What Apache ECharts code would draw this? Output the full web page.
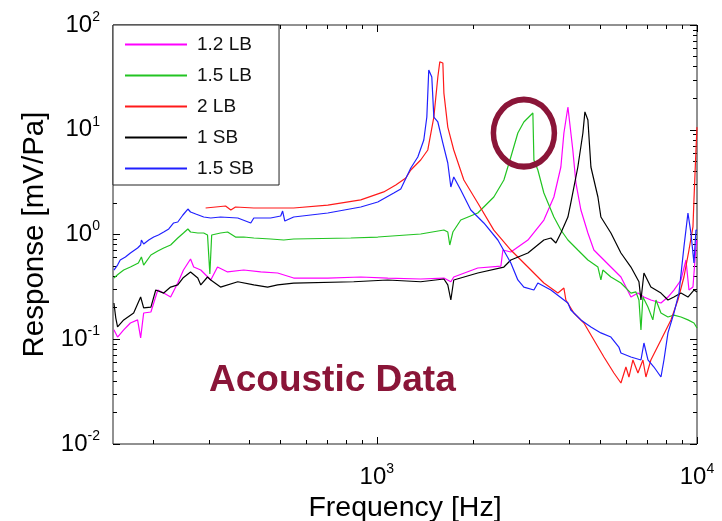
<!DOCTYPE html>
<html>
<head>
<meta charset="utf-8">
<script src="https://cdn.jsdelivr.net/npm/echarts@6/dist/echarts.min.js"></script>
<style>
  html, body { margin: 0; padding: 0; background: #fff; }
  #chart { width: 722px; height: 521px; }
</style>
</head>
<body>
<div id="chart"></div>
<script>
// Frequency response of the microphone variants, log-log.
// Frequencies in Hz, responses in mV/Pa.

const seriesNames = ['1.2 LB', '1.5 LB', '2 LB', '1 SB', '1.5 SB'];

const freq12LB = [151,155,162,170,179,183,187,197,207,216,227,239,249,262,268,282,303,318,342,384,
  434,490,550,703,891,1082,1371,1620,1703,1739,2067,2441,2476,2622,2964,3325,3573,3757,3840,3952,
  4094,4187,4339,4563,4764,5010,5384,5787,6218,6540,6828,7177,7717,8115,8472,8912,9237,9439,9713,9926,10000];
const resp12LB = [0.123,0.105,0.123,0.143,0.153,0.103,0.178,0.182,0.295,0.276,0.253,0.344,0.458,0.584,0.489,0.458,0.368,0.489,0.439,0.458,
  0.439,0.429,0.384,0.384,0.393,0.384,0.376,0.384,0.354,0.393,0.479,0.500,0.711,0.681,0.886,1.375,2.28,4.41,9.31,16.5,
  6.41,3.10,1.714,1.033,0.711,0.610,0.489,0.393,0.253,0.276,0.253,0.237,0.222,0.253,0.295,0.368,0.571,0.295,0.315,0.760,0.886];

const freq15LB = [151,156,162,170,180,184,187,197,207,216,227,239,249,257,262,276,288,296,301,305,
  325,342,362,384,413,466,512,550,829,1007,1371,1620,1666,1690,1728,1829,2067,2320,2494,2622,
  2757,2879,3072,3095,3184,3325,3573,3757,3952,4245,4563,4904,5010,5082,5384,5787,6218,6446,6587,6683,
  6778,7028,7279,7444,7717,8115,8472,8912,9370,9784,10000];
const resp15LB = [0.384,0.420,0.458,0.489,0.534,0.610,0.511,0.637,0.696,0.743,0.794,0.926,1.033,1.129,1.056,1.033,1.033,0.989,0.420,0.989,
  1.033,1.056,0.946,0.946,0.926,0.906,0.886,0.906,0.926,0.946,1.011,1.104,1.056,0.794,1.056,1.375,1.604,2.28,3.314,5.494,
  9.31,11.86,14.45,5.14,4.13,2.49,1.469,1.104,0.886,0.711,0.571,0.489,0.368,0.458,0.393,0.344,0.276,0.283,0.237,0.1225,
  0.253,0.203,0.153,0.237,0.178,0.163,0.170,0.163,0.153,0.143,0.128];

const freq2LB = [292,314,337,350,362,413,550,703,891,1051,1146,1232,1277,1371,1443,1507,1551,1573,1608,1620,
  1666,1739,1870,2067,2320,2622,2964,3325,3677,3840,3895,4125,4434,4764,5120,5502,5787,5998,6130,6308,
  6540,6778,6926,7177,7717,8291,8718,9103,9439,9713,9784,9926,10000];
const resp2LB = [1.79,1.83,1.87,1.71,1.83,1.79,1.79,1.91,2.14,2.55,2.97,3.46,4.13,5.14,6.41,13.2,31.9,44.4,43.4,22.4,
  10.6,6.41,3.31,2.00,1.10,0.711,0.489,0.344,0.276,0.308,0.237,0.178,0.143,0.0984,0.0677,0.0476,0.0382,0.0543,0.0436,0.0634,
  0.0476,0.0634,0.0436,0.0634,0.0984,0.153,0.237,0.393,0.711,1.18,2.14,6.41,10.6];

const freq1SB = [151,153,155,162,174,183,187,197,204,216,227,239,248,262,276,282,296,303,325,368,
  413,456,490,550,847,1082,1371,1620,1666,1703,1739,2067,2494,2622,2964,3325,3497,3625,3757,3952,
  4036,4245,4402,4466,4563,4663,4904,5010,5384,5787,6218,6587,6683,6828,7177,7717,8115,8472,8912,9370,9784,10000];
const resp1SB = [0.222,0.160,0.131,0.153,0.178,0.253,0.199,0.203,0.295,0.276,0.315,0.330,0.384,0.439,0.384,0.330,0.393,0.368,0.315,0.354,
  0.330,0.315,0.330,0.344,0.354,0.368,0.354,0.376,0.330,0.237,0.368,0.429,0.489,0.571,0.666,0.886,0.926,0.830,1.033,1.469,
  2.00,4.41,9.31,14.8,12.4,4.41,2.28,1.469,1.033,0.666,0.489,0.354,0.237,0.429,0.315,0.276,0.237,0.253,0.276,0.253,0.295,0.283];

const freq15SB = [151,155,158,164,170,179,183,184,187,194,201,208,216,224,232,239,248,257,262,272,
  288,303,325,368,404,413,466,501,508,516,550,703,891,1007,1130,1188,1277,1343,1402,1433,
  1453,1485,1507,1551,1608,1666,1703,1739,1829,1966,2159,2388,2622,2757,2879,3095,3184,3497,3952,4036,
  4339,4663,5010,5384,5701,5787,6218,6683,6828,7028,7337,7717,7884,8115,8472,8784,9103,9370,9572,9784,9926,10000];
const resp15SB = [0.458,0.511,0.571,0.610,0.666,0.743,0.794,0.886,0.811,0.886,0.946,0.990,1.056,1.129,1.288,1.316,1.535,1.751,1.640,1.569,
  1.469,1.437,1.469,1.437,1.288,1.437,1.437,1.502,1.676,1.345,1.469,1.604,1.830,2.043,2.490,2.719,4.314,5.494,7.983,13.23,
  37.2,31.9,13.2,11.86,7.47,4.815,2.841,3.539,2.660,1.714,1.288,0.886,0.534,0.368,0.315,0.295,0.344,0.295,0.222,0.190,
  0.153,0.131,0.115,0.105,0.0843,0.0739,0.0677,0.0634,0.0921,0.0634,0.0543,0.0436,0.0634,0.115,0.178,0.276,0.760,1.604,1.033,0.534,1.104,1.10];

// Axis ranges and decade tick labels (exponents of 10)
const freqRange = [150, 10000];
const respRange = [0.01, 100];
const xDecades = [3, 4];
const yDecades = [-2, -1, 0, 1, 2];
const xMinorTicks = [200,300,400,500,600,700,800,900,2000,3000,4000,5000,6000,7000,8000,9000];
const yMinorTicks = [];
[0.01, 0.1, 1, 10].forEach(function (d) {
  for (let m = 2; m <= 9; m++) yMinorTicks.push(m * d);
});

// Highlighted resonance of the 1.5 LB variant
const highlightAt = [2880, 9.3];
const noteText = 'Acoustic Data';

const colors = ['#ff00ff', '#22c422', '#ff1a1a', '#000000', '#2020ff'];
const FONT = '"Liberation Sans", Arial, Helvetica, sans-serif';
const lg = Math.log10;

function toPairs(f, r) { return f.map(function (x, i) { return [lg(x), lg(r[i])]; }); }
const table = [
  toPairs(freq12LB, resp12LB),
  toPairs(freq15LB, resp15LB),
  toPairs(freq2LB, resp2LB),
  toPairs(freq1SB, resp1SB),
  toPairs(freq15SB, resp15SB)
];

function powLabel(v) { return '{b|10}{s|' + Math.round(v) + '}'; }
const powRich = {
  b: { fontSize: 24, lineHeight: 30, fontFamily: FONT, color: '#000' },
  s: { fontSize: 14, lineHeight: 14, verticalAlign: 'top', fontFamily: FONT, color: '#000' }
};

const gridRect = { left: 113, top: 25, width: 584, height: 419 };
const xMin = lg(freqRange[0]), xMax = lg(freqRange[1]);
const yMin = lg(respRange[0]), yMax = lg(respRange[1]);
const tickColor = '#000';

function xAxisDef(grid, pos, values, len, withLabels) {
  const a = {
    type: 'value', gridIndex: grid, position: pos, min: xMin, max: xMax,
    axisLine: { show: false, onZero: false }, splitLine: { show: false },
    axisTick: { show: true, inside: true, length: len, customValues: values, lineStyle: { color: tickColor, width: 1 } },
    axisLabel: { show: false }
  };
  if (withLabels) {
    a.axisLabel = { show: true, customValues: xDecades, formatter: powLabel, rich: powRich, margin: 18,
      showMinLabel: true, showMaxLabel: true };
    a.name = 'Frequency [Hz]';
    a.nameLocation = 'middle';
    a.nameGap = 44;
    a.nameTextStyle = { fontSize: 28.5, fontFamily: FONT, color: '#000' };
  }
  return a;
}
function yAxisDef(grid, pos, values, len, withLabels) {
  const a = {
    type: 'value', gridIndex: grid, position: pos, min: yMin, max: yMax,
    axisLine: { show: false, onZero: false }, splitLine: { show: false },
    axisTick: { show: true, inside: true, length: len, customValues: values, lineStyle: { color: tickColor, width: 1 } },
    axisLabel: { show: false }
  };
  if (withLabels) {
    a.axisLabel = { show: true, customValues: yDecades, formatter: powLabel, rich: powRich, margin: 13,
      showMinLabel: true, showMaxLabel: true };
    a.name = 'Response [mV/Pa]';
    a.nameLocation = 'middle';
    a.nameRotate = 90;
    a.nameGap = 58;
    a.nameTextStyle = { fontSize: 29.5, fontFamily: FONT, color: '#000' };
  }
  return a;
}

const xMinorLog = xMinorTicks.map(lg);
const yMinorLog = yMinorTicks.map(lg);

const chart = echarts.init(document.getElementById('chart'), null, { renderer: 'canvas' });
chart.setOption({
  animation: false,
  backgroundColor: '#fff',
  textStyle: { fontFamily: FONT },
  grid: [
    Object.assign({ show: true, borderColor: '#222', borderWidth: 1, backgroundColor: 'transparent',
      containLabel: false, outerBoundsMode: 'none' }, gridRect),
    Object.assign({ show: false, containLabel: false, outerBoundsMode: 'none' }, gridRect)
  ],
  xAxis: [
    xAxisDef(0, 'bottom', xDecades, 7, true),
    xAxisDef(0, 'top', xDecades, 7, false),
    xAxisDef(1, 'bottom', xMinorLog, 4, false),
    xAxisDef(1, 'top', xMinorLog, 4, false)
  ],
  yAxis: [
    yAxisDef(0, 'left', yDecades, 7, true),
    yAxisDef(0, 'right', yDecades, 7, false),
    yAxisDef(1, 'left', yMinorLog, 4, false),
    yAxisDef(1, 'right', yMinorLog, 4, false)
  ],
  legend: {
    data: seriesNames,
    orient: 'vertical',
    left: 113, top: 25,
    padding: [10, 25, 7, 11],
    itemWidth: 62, itemHeight: 14, itemGap: 12,
    backgroundColor: '#fff',
    borderColor: '#222', borderWidth: 1,
    itemStyle: { opacity: 0 },
    textStyle: { fontSize: 19, fontFamily: FONT, color: '#111', padding: [0, 0, 0, 5] },
    z: 5
  },
  series: seriesNames.map(function (name, i) {
    return {
      name: name, type: 'line', xAxisIndex: 0, yAxisIndex: 0,
      data: table[i], showSymbol: false, symbol: 'none',
      lineStyle: { color: colors[i], width: 1.2 },
      itemStyle: { color: colors[i] },
      clip: true, z: 2
    };
  })
});

const c = chart.convertToPixel({ gridIndex: 0 }, [lg(highlightAt[0]), lg(highlightAt[1])]);
chart.setOption({
  graphic: [
    {
      type: 'circle', x: c[0], y: c[1], scaleY: 1.1,
      shape: { cx: 0, cy: 0, r: 30.5 },
      style: { fill: 'none', stroke: '#8a1538', lineWidth: 5.5 },
      z: 10
    },
    {
      type: 'text', left: 209, top: 362,
      style: { text: noteText, font: 'bold 37px ' + FONT, fill: '#8a1538' },
      z: 10
    }
  ]
});
</script>
</body>
</html>
